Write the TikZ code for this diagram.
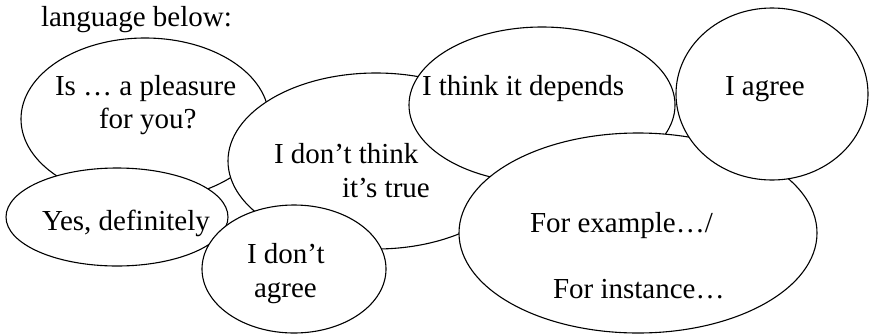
\documentclass[tikz,border=0pt]{standalone}
\usepackage{fontspec}
\setmainfont{Liberation Serif}
\usetikzlibrary{shapes.geometric}
\tikzset{
  bubble/.style={ellipse, draw=black, fill=white, line width=1.1pt, inner sep=0pt, outer sep=0pt},
  txt/.style={font=\fontsize{29}{34}\selectfont, inner sep=0pt, outer sep=0pt, anchor=base west}
}
\begin{document}
\begin{tikzpicture}[x=1pt,y=-1pt]
\useasboundingbox (0,0) rectangle (869,335);
\node[txt] (lang) at (41,26) {language below:};
% bubbles in stacking order
\node[bubble, minimum width=248pt, minimum height=162pt] (pleasure) at (145,119) {};
\node[bubble, minimum width=222pt, minimum height=98pt] (yes) at (117,217) {};
\node[bubble, minimum width=296pt, minimum height=176pt] (dontthink) at (376,161) {};
\node[bubble, minimum width=184pt, minimum height=128pt] (dontagree) at (294,269) {};
\node[bubble, minimum width=266pt, minimum height=156pt] (depends) at (542,105) {};
\node[bubble, minimum width=358pt, minimum height=200pt] (example) at (638,233) {};
\node[bubble, minimum width=192pt, minimum height=172pt] (agree) at (772,94) {};
% texts
\node[txt] (t1a) at (55,95) {Is … a pleasure};
\node[txt] (t1b) at (99,128) {for you?};
\node[txt] (t2) at (42,230) {Yes, definitely};
\node[txt] (t3a) at (274,163) {I don’t think};
\node[txt] (t3b) at (342,197) {it’s true};
\node[txt] (t4a) at (247,263) {I don’t};
\node[txt] (t4b) at (254,297) {agree};
\node[txt] (t5) at (422,95) {I think it depends};
\node[txt] (t6) at (725,95) {I agree};
\node[txt] (t7a) at (530,232) {For example…/};
\node[txt] (t7b) at (553,298) {For instance…};
\end{tikzpicture}
\end{document}
